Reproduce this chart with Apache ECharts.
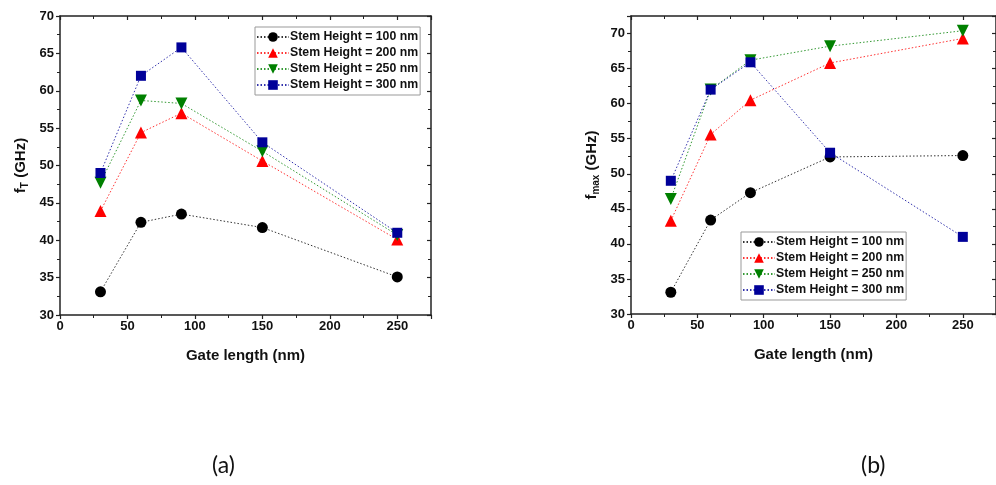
<!DOCTYPE html>
<html><head><meta charset="utf-8">
<script src="https://cdn.jsdelivr.net/npm/echarts@6/dist/echarts.min.js"></script>
<style>html,body{margin:0;padding:0;background:#fff}#c{width:996px;height:485px}</style>
</head><body><div id="c"></div>
<script>
const gateLength = [30, 60, 90, 150, 250];
const seriesNames = ['Stem Height = 100 nm','Stem Height = 200 nm','Stem Height = 250 nm','Stem Height = 300 nm'];
const fT_100 = [33.1, 42.4, 43.5, 41.7, 35.1];
const fT_200 = [43.9, 54.4, 57.0, 50.6, 40.1];
const fT_250 = [47.7, 58.7, 58.3, 51.9, 40.7];
const fT_300 = [49.0, 62.0, 65.8, 53.1, 41.0];
const fmax_100 = [33.1, 43.4, 47.3, 52.4, 52.6];
const fmax_200 = [43.3, 55.6, 60.5, 65.8, 69.3];
const fmax_250 = [46.4, 62.0, 66.2, 68.2, 70.4];
const fmax_300 = [49.0, 62.0, 65.9, 53.0, 41.0];
const panelLabels = ['(a)', '(b)'];

const colors = ['#000000', '#ff0000', '#008000', '#000099'];
const symbols = ['circle', 'triangle', 'triangle', 'rect'];
const rotates = [0, 0, 180, 0];
const sizes = [11, 12, 12, 10];
const font = 'Liberation Sans, Arial, sans-serif';

function pairs(ys){ return gateLength.map((x,i)=>[x, ys[i]]); }

function makeSeries(datas, gi){
  return datas.map((d,i)=>({
    name: seriesNames[i], type:'line', xAxisIndex: gi*2, yAxisIndex: gi*2,
    data: pairs(d), symbol: symbols[i], symbolRotate: rotates[i], symbolSize: sizes[i],
    itemStyle:{color: colors[i]},
    lineStyle:{color: colors[i], width: 1, type: [1.5, 2], opacity: 0.8},
    z: 3 + i
  }));
}

const axisLineStyle = {lineStyle:{color:'#222', width:1.5}};
const lbl = {color:'#111', fontFamily: font, fontWeight:'bold', fontSize: 13};

function xAxes(gi){
  return [
    {type:'value', gridIndex: gi, min:0, max:275, interval:50, position:'bottom',
     axisLine: {...axisLineStyle, onZero:false}, axisTick:{show:true, inside:false, length:4, lineStyle:{color:'#222', width:1.2}},
     minorTick:{show:true, splitNumber:2, length:3, lineStyle:{color:'#222', width:1}},
     splitLine:{show:false}, axisLabel:{...lbl, margin:5, showMaxLabel:false},
     name:'Gate length (nm)', nameLocation:'middle', nameGap: 33,
     nameTextStyle:{color:'#111', fontFamily: font, fontWeight:'bold', fontSize: 15}},
    {type:'value', gridIndex: gi, min:0, max:275, interval:50, position:'top',
     axisLine: {...axisLineStyle, onZero:false}, axisTick:{show:true, inside:true, length:4, lineStyle:{color:'#222', width:1.2}},
     minorTick:{show:true, splitNumber:2, length:3, lineStyle:{color:'#222', width:1}},
     splitLine:{show:false}, axisLabel:{show:false}}
  ];
}
function yAxes(gi, max, sub){
  return [
    {type:'value', gridIndex: gi, min:30, max:max, interval:5, position:'left',
     axisLine: {...axisLineStyle, onZero:false}, axisTick:{show:true, inside:false, length:4, lineStyle:{color:'#222', width:1.2}},
     minorTick:{show:true, splitNumber:2, length:3, lineStyle:{color:'#222', width:1}},
     splitLine:{show:false},
     axisLabel:{...lbl, margin:6, formatter: v => (v > 70 ? '' : String(v))},
     name:'{b|f}{s|' + sub + '}{b| (GHz)}', nameLocation:'middle', nameGap: 30,
     nameTextStyle:{rich:{
       b:{color:'#111', fontFamily: font, fontWeight:'bold', fontSize: 15},
       s:{color:'#111', fontFamily: font, fontWeight:'bold', fontSize: 10, padding:[9,0,0,0]}
     }}},
    {type:'value', gridIndex: gi, min:30, max:max, interval:5, position:'right',
     axisLine: {...axisLineStyle, onZero:false}, axisTick:{show:true, inside:true, length:4, lineStyle:{color:'#222', width:1.2}},
     minorTick:{show:true, splitNumber:2, length:3, lineStyle:{color:'#222', width:1}},
     splitLine:{show:false}, axisLabel:{show:false}}
  ];
}

const legendBase = {
  orient:'vertical', itemWidth: 32, itemHeight: 12, itemGap: 4,
  borderColor:'#999', borderWidth: 1, padding:[4,2,4,1], backgroundColor:'#fff',
  textStyle:{color:'#111', fontFamily: font, fontWeight:'bold', fontSize: 12.3, padding:[0,0,0,-4]},
  data: seriesNames
};

const chart = echarts.init(document.getElementById('c'), null, {renderer:'canvas'});
chart.setOption({
  animation:false,
  backgroundColor:'#fff',
  grid:[
    {left:60, top:16, width:371, height:299},
    {left:631, top:16, width:371, height:298}
  ],
  xAxis:[...xAxes(0), ...xAxes(1)],
  yAxis:[...yAxes(0, 70, 'T'), ...yAxes(1, 72.5, 'max')],
  legend:[
    {...legendBase, left:255, top:27},
    {...legendBase, left:741, top:232}
  ],
  title:[
    {text: panelLabels[0], left: 207, top: 449, textStyle:{fontFamily:'Lato, Open Sans, sans-serif', fontWeight:'normal', fontSize: 23, color:'#111'}},
    {text: panelLabels[1], left: 856, top: 449, textStyle:{fontFamily:'Lato, Open Sans, sans-serif', fontWeight:'normal', fontSize: 23, color:'#111'}}
  ],
  series:[
    ...makeSeries([fT_100, fT_200, fT_250, fT_300], 0),
    ...makeSeries([fmax_100, fmax_200, fmax_250, fmax_300], 1)
  ]
});
</script></body></html>
